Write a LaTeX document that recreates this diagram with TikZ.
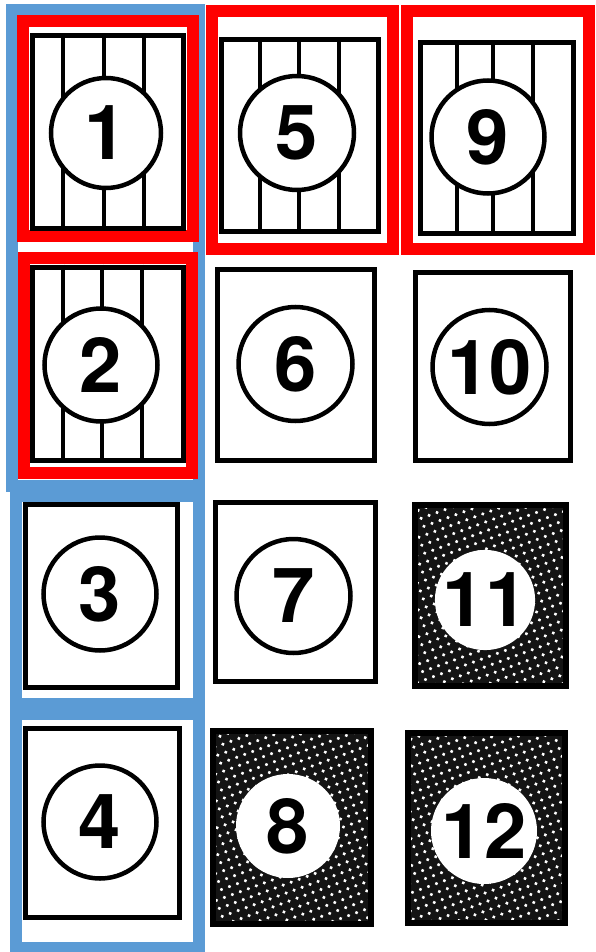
\documentclass[tikz,border=0pt]{standalone}
\usepackage{fontspec}
\setmainfont{TeX Gyre Heros}
\usetikzlibrary{patterns.meta}
\definecolor{markblue}{RGB}{91,155,213}
\newcommand{\digitfont}{\fontsize{76}{76}\selectfont\bfseries}
\tikzset{
  card/.style={draw, line width=5pt, inner sep=0pt, fill=white},
  stripe/.style={line width=4.5pt},
  badge/.style={circle, draw, line width=4.5pt, fill=white, inner sep=0pt, font=\digitfont},
  darkcard/.style={draw, line width=6pt, inner sep=0pt, preaction={fill=black!92},
    pattern={Dots[distance=8.5pt, radius=1.8pt, angle=20]}, pattern color=white},
  hole/.style={circle, fill=white, inner sep=0pt, font=\digitfont},
  redframe/.style={draw=red, line width=12pt},
  blueframe/.style={draw=markblue, line width=12pt}
}
\begin{document}
\begin{tikzpicture}[x=1pt, y=-1pt]
  \fill[white] (0,0) rectangle (595,952);
  \useasboundingbox (0,0) rectangle (595,952);
  % marks round the cards
  \draw[blueframe] (12,10) rectangle (199,486);
  \draw[blueframe] (16,496) rectangle (199,704);
  \draw[blueframe] (16,714) rectangle (199,948);
  \draw[redframe] (23,21) rectangle (193,236);
  \draw[redframe] (24,258) rectangle (192,473);
  \draw[redframe] (212,11) rectangle (393,249);
  \draw[redframe] (406.5,11) rectangle (589,249);
  % striped cards
  \node[card, minimum width=151pt, minimum height=192pt] (c1) at (107.5,132) {};
  \foreach \sx in {63,104,144} \draw[stripe] (\sx,0 |- c1.north) -- (\sx,0 |- c1.south);
  \node[badge, minimum size=110pt] (n1) at (106,133) {1};
  \node[card, minimum width=151pt, minimum height=193pt] (c2) at (107.5,363.5) {};
  \foreach \sx in {63,102,142} \draw[stripe] (\sx,0 |- c2.north) -- (\sx,0 |- c2.south);
  \node[badge, minimum size=113pt] (n2) at (101,365) {2};
  \node[card, minimum width=157pt, minimum height=191pt] (c5) at (299.5,135.5) {};
  \foreach \sx in {260,299,339} \draw[stripe] (\sx,0 |- c5.north) -- (\sx,0 |- c5.south);
  \node[badge, minimum size=114pt] (n5) at (297,133) {5};
  \node[card, minimum width=153pt, minimum height=190pt] (c9) at (496.5,138) {};
  \foreach \sx in {457,493,533} \draw[stripe] (\sx,0 |- c9.north) -- (\sx,0 |- c9.south);
  \node[badge, minimum size=113pt] (n9) at (488,137) {9};
  % plain cards
  \node[card, minimum width=152pt, minimum height=183pt] (c3) at (101,595.5) {};
  \node[badge, minimum size=113pt] (n3) at (100,594) {3};
  \node[card, minimum width=154pt, minimum height=189pt] (c4) at (102,822.5) {};
  \node[badge, minimum size=113pt] (n4) at (100,822) {4};
  \node[card, minimum width=157pt, minimum height=191pt] (c6) at (295.5,364.5) {};
  \node[badge, minimum size=114pt] (n6) at (295.5,364) {6};
  \node[card, minimum width=160pt, minimum height=179pt] (c7) at (295,591.5) {};
  \node[badge, minimum size=114pt] (n7) at (293.5,596) {7};
  \node[card, minimum width=155pt, minimum height=188pt] (c10) at (492.5,366) {};
  \node[badge, minimum size=114pt] (n10) at (489.5,367) {10};
  % dotted cards
  \node[darkcard, minimum width=158pt, minimum height=193pt] (c8) at (291.5,827) {};
  \node[hole, minimum size=104pt] (n8) at (288,826) {8};
  \node[darkcard, minimum width=151pt, minimum height=181pt] (c11) at (490,595) {};
  \node[hole, minimum size=100pt] (n11) at (485,600) {11};
  \node[darkcard, minimum width=157pt, minimum height=190pt] (c12) at (486,827.5) {};
  \node[hole, minimum size=106pt] (n12) at (484,831) {12};
\end{tikzpicture}
\end{document}
